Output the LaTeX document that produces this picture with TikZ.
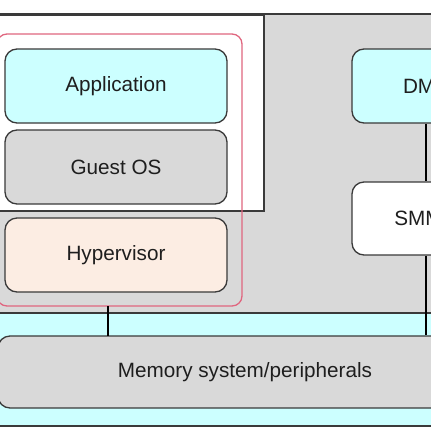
\documentclass[tikz,border=0pt]{standalone}
\usepackage{fontspec}
\setmainfont{Liberation Sans}
\definecolor{cyanf}{HTML}{CCFFFF}
\definecolor{grayf}{HTML}{D9D9D9}
\definecolor{peach}{HTML}{FCEDE3}
\definecolor{redb}{HTML}{E0667F}
\definecolor{edge}{HTML}{3A3A3A}
\definecolor{txt}{HTML}{1E1E1E}
\begin{document}
\begin{tikzpicture}[x=1pt,y=-1pt,
  blk/.style={draw=edge,line width=1.3pt,rounded corners=12pt,inner sep=0pt,
    font=\fontsize{20.7}{24}\selectfont,text=txt},
  conn/.style={draw=black,line width=2.6pt}]
\useasboundingbox (0,0) rectangle (431,432);
\begin{scope}
\clip (0,0) rectangle (431,432);
% outer gray region
\path[fill=grayf,draw=edge,line width=1.3pt] (-5,14) rectangle (500,313);
% bus band
\path[fill=cyanf,draw=edge,line width=1.3pt] (-5,313) rectangle (500,426);
% white guest area
\path[fill=white,draw=edge,line width=1.3pt] (-5,15) rectangle (264,211);
% nodes
\node[blk,fill=cyanf,minimum width=222pt,minimum height=74pt] (app) at (116,86) {Application};
\node[blk,fill=grayf,minimum width=222pt,minimum height=74pt] (gos) at (116,167) {Guest OS};
\node[blk,fill=peach,minimum width=222pt,minimum height=74pt] (hyp) at (116,255) {Hypervisor};
\node[draw=redb,line width=1.3pt,rounded corners=10pt,minimum width=245pt,minimum height=272pt] (vm) at (119.5,170) {};
\node[blk,fill=cyanf,minimum width=148pt,minimum height=74pt] (dma) at (426,86) {DMA};
\node[blk,fill=white,minimum width=148pt,minimum height=73pt] (smmu) at (426,218.5) {SMMU};
\node[blk,fill=grayf,minimum width=494pt,minimum height=72pt] (mem) at (245,372) {Memory system/peripherals};
% connectors
\coordinate (vmb) at (108,306);
\coordinate (memtl) at (108,336);
\draw[conn] (vmb) -- (memtl);
\draw[conn] (dma.south) -- (smmu.north);
\draw[conn] (smmu.south) -- (smmu.south |- mem.north);
\end{scope}
\end{tikzpicture}
\end{document}
